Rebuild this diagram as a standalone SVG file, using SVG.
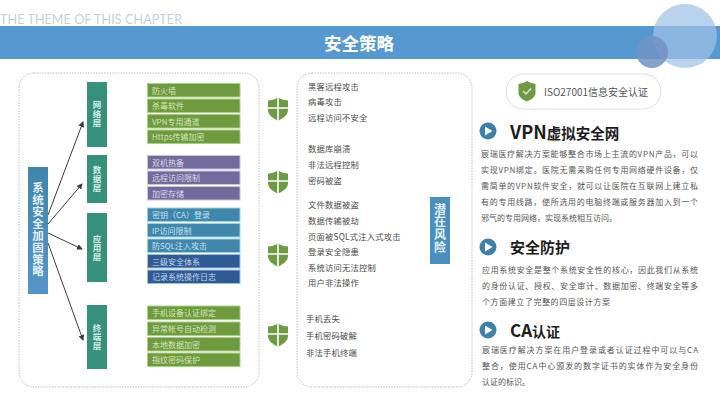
<svg xmlns="http://www.w3.org/2000/svg" width="720" height="405" viewBox="0 0 720 405">
<style>
text{font-family:"Noto Sans CJK SC","Liberation Sans",sans-serif}
.dash{fill:#fff;stroke:#a9adb0;stroke-width:.8;stroke-dasharray:1.5 1.2}
.layer{fill:#35917a}
.v{writing-mode:vertical-rl;text-orientation:upright;font-weight:700}
.lt{fill:#d8ece6;font-size:8.500px;letter-spacing:.5px}
.big{fill:#e6f0f6;font-size:11.500px;letter-spacing:.4px}
.tag{fill:#e6f0f6;font-size:12px;letter-spacing:.7px}
.item{font-size:8px}
.g rect{fill:#6e9a40;stroke:#a9d184;stroke-width:1}.g text{fill:#d4e6b5}
.p rect{fill:#736b9b;stroke:#c9c5dd;stroke-width:1}.p text{fill:#dcd8ea}
.b rect{fill:#3f87ad;stroke:#9fd0e0;stroke-width:1}.b text{fill:#c4e2ee}
.n rect{fill:#2f5b94;stroke:#9fc0dc;stroke-width:1}.n text{fill:#c4d6ea}
.risk{font-size:8.300px;fill:#4a4a4a;letter-spacing:.2px}
.body{font-size:8px;fill:#555}
.h{font-weight:700;fill:#1c1c1c}
.conn{stroke:#3c3c3c;stroke-width:1;fill:none;marker-end:url(#ah)}
</style>
<defs>
<marker id="ah" markerWidth="6" markerHeight="6" refX="5" refY="3" orient="auto" markerUnits="userSpaceOnUse"><path d="M0 0L6 3L0 6Z" fill="#3c3c3c"/></marker>
<linearGradient id="lg" x1="0" y1="0" x2="0" y2="1"><stop offset="0" stop-color="#3f86ad"/><stop offset="1" stop-color="#5695c8"/></linearGradient>
<g id="sh"><path d="M0 -11.5C3 -9.5 7 -8.5 10 -8.5V1C10 6 5 9.5 0 11.5C-5 9.5 -10 6 -10 1V-8.5C-7 -8.5 -3 -9.5 0 -11.5Z" fill="#6f9a44"/><path d="M0 -11.5V11.5M-10 -1H10" stroke="#fff" stroke-width="1.6"/></g>
</defs>

<g id="header">
<text x="0" y="24" font-size="12.500" fill="#c6cfdc" textLength="182" style="font-family:'Lato','Liberation Sans',sans-serif">THE THEME OF THIS CHAPTER</text>
<rect x="0" y="26" width="720" height="33" fill="#5698d0"/>
<circle cx="685" cy="36" r="32" fill="#9ec2e5" fill-opacity=".72"/>
<circle cx="652" cy="52" r="16" fill="#7093c3" fill-opacity=".85"/>
<text x="359" y="50" font-size="17.500" font-weight="700" fill="#fff" text-anchor="middle">安全策略</text>
</g>

<rect id="panel-left" class="dash" x="19" y="73" width="240" height="314" rx="15"/>
<rect id="panel-right" class="dash" x="297" y="73" width="175" height="314" rx="15"/>

<g id="connectors">
<path class="conn" d="M48 215L83 122"/>
<path class="conn" d="M48 224L82 184"/>
<path class="conn" d="M48 233L82 249"/>
<path class="conn" d="M48 243L83 340"/>
</g>

<g id="root"><rect x="28" y="167" width="20" height="127" fill="url(#lg)"/>
<text class="v big" x="38" y="182">系统安全加固策略</text></g>

<g id="layer-net"><rect class="layer" x="87" y="82" width="20" height="65"/><text class="v lt" x="97" y="101">网络层</text></g>
<g id="layer-data"><rect class="layer" x="87" y="155" width="20" height="48"/><text class="v lt" x="97" y="166">数据层</text></g>
<g id="layer-app"><rect class="layer" x="87" y="213" width="20" height="69"/><text class="v lt" x="97" y="235">应用层</text></g>
<g id="layer-term"><rect class="layer" x="87" y="305" width="20" height="64"/><text class="v lt" x="97" y="324">终端层</text></g>

<g id="items-net" class="g item">
<rect x="147.500" y="83.500" width="92.500" height="13.500"/><text x="152" y="93.500">防火墙</text>
<rect x="147.500" y="99" width="92.500" height="13.500"/><text x="152" y="109">杀毒软件</text>
<rect x="147.500" y="114.500" width="92.500" height="13.500"/><text x="152" y="124.500">VPN专用通道</text>
<rect x="147.500" y="130" width="92.500" height="13.500"/><text x="152" y="140">Https传输加密</text>
</g>
<g id="items-data" class="p item">
<rect x="147.500" y="155.500" width="92.500" height="13.500"/><text x="152" y="165.500">双机热备</text>
<rect x="147.500" y="171" width="92.500" height="13.500"/><text x="152" y="181">远程访问限制</text>
<rect x="147.500" y="186.500" width="92.500" height="13.500"/><text x="152" y="196.500">加密存储</text>
</g>
<g id="items-app" class="item">
<g class="b"><rect x="147.500" y="208" width="92.500" height="13.500"/><text x="152" y="218">密钥（CA）登录</text>
<rect x="147.500" y="223.500" width="92.500" height="13.500"/><text x="152" y="233.500">IP访问限制</text>
<rect x="147.500" y="239" width="92.500" height="13.500"/><text x="152" y="249">防SQL注入攻击</text></g>
<g class="n"><rect x="147.500" y="254.500" width="92.500" height="13.500"/><text x="152" y="264.500">三级安全体系</text>
<rect x="147.500" y="270" width="92.500" height="13.500"/><text x="152" y="280">记录系统操作日志</text></g>
</g>
<g id="items-term" class="g item">
<rect x="147.500" y="306" width="92.500" height="13.500"/><text x="152" y="316">手机设备认证绑定</text>
<rect x="147.500" y="322" width="92.500" height="13.500"/><text x="152" y="332">异常帐号自动检测</text>
<rect x="147.500" y="337.500" width="92.500" height="13.500"/><text x="152" y="347.500">本地数据加密</text>
<rect x="147.500" y="353" width="92.500" height="13.500"/><text x="152" y="363">指纹密码保护</text>
</g>

<g id="shields">
<use href="#sh" x="278" y="109"/><use href="#sh" x="278" y="182"/><use href="#sh" x="278" y="255"/><use href="#sh" x="278" y="335"/>
</g>

<g id="risks" class="risk">
<text x="308" y="90">黑客远程攻击</text>
<text x="308" y="105">病毒攻击</text>
<text x="308" y="121">远程访问不安全</text>
<text x="308" y="152">数据库崩溃</text>
<text x="308" y="168">非法远程控制</text>
<text x="308" y="184">密码被盗</text>
<text x="308" y="208">文件数据被盗</text>
<text x="308" y="224">数据传输被劫</text>
<text x="308" y="240">页面被SQL式注入式攻击</text>
<text x="308" y="255">登录安全隐患</text>
<text x="308" y="270.500">系统访问无法控制</text>
<text x="308" y="286">用户非法操作</text>
<text x="306" y="322">手机丢失</text>
<text x="306" y="339">手机密码破解</text>
<text x="306" y="356">非法手机终端</text>
</g>

<g id="risk-tag"><rect x="430" y="197" width="20" height="67" fill="#4a8fc0"/>
<text class="v tag" x="440" y="203">潜在风险</text></g>

<g id="badge"><rect x="506" y="74" width="155" height="35" rx="17.500" fill="#fff" stroke="#dcdcdc"/>
<path d="M527 81C530 83 533 83.500 535.500 84V93C535.500 97 531 100 527 101.500C523 100 518.500 97 518.500 93V84C521 83.500 524 83 527 81Z" fill="#6f9a44"/>
<path d="M523 91L526 94L531 88.500" stroke="#dfeccb" stroke-width="1.300" fill="none"/>
<text x="544" y="95.500" font-size="10" fill="#555" textLength="104">ISO27001信息安全认证</text></g>

<g id="sec-vpn">
<circle cx="488" cy="131" r="8.500" fill="#3f7fab"/><path d="M485 126.500L492.500 131L485 135.500Z" fill="#fff"/>
<text class="h" x="510" y="138.500" font-size="18">VPN<tspan font-size="14.500">虚拟安全网</tspan></text>
<g class="body">
<text x="481" y="157" textLength="217">宸瑞医疗解决方案能够整合市场上主流的VPN产品，可以</text>
<text x="481" y="173" textLength="217">实现VPN绑定。医院无需采购任何专用网络硬件设备，仅</text>
<text x="481" y="189" textLength="217">需简单的VPN软件安全，就可以让医院在互联网上建立私</text>
<text x="481" y="205" textLength="217">有的专用线路，使所选用的电脑终端或服务器加入到一个</text>
<text x="481" y="221" textLength="136">邪气的专用网络，实现系统相互访问。</text>
</g></g>

<g id="sec-protect">
<circle cx="488" cy="247" r="8.500" fill="#3f7fab"/><path d="M485 242.500L492.500 247L485 251.500Z" fill="#fff"/>
<text class="h" x="510" y="253" font-size="15">安全防护</text>
<g class="body">
<text x="482" y="273" textLength="216">应用系统安全是整个系统安全性的核心，因此我们从系统</text>
<text x="482" y="289" textLength="216">的身份认证、授权、安全审计、数据加密、终端安全等多</text>
<text x="482" y="305" textLength="128">个方面建立了完整的四层设计方案</text>
</g></g>

<g id="sec-ca">
<circle cx="488" cy="330" r="8.500" fill="#3f7fab"/><path d="M485 325.500L492.500 330L485 334.500Z" fill="#fff"/>
<text class="h" x="510" y="336.500" font-size="17">CA<tspan font-size="14">认证</tspan></text>
<g class="body">
<text x="482" y="353" textLength="216">宸瑞医疗解决方案在用户登录或者认证过程中可以与CA</text>
<text x="482" y="369" textLength="216">整合，使用CA中心颁发的数字证书的实体作为安全身份</text>
<text x="482" y="385" textLength="48">认证的标识。</text>
</g></g>
</svg>
